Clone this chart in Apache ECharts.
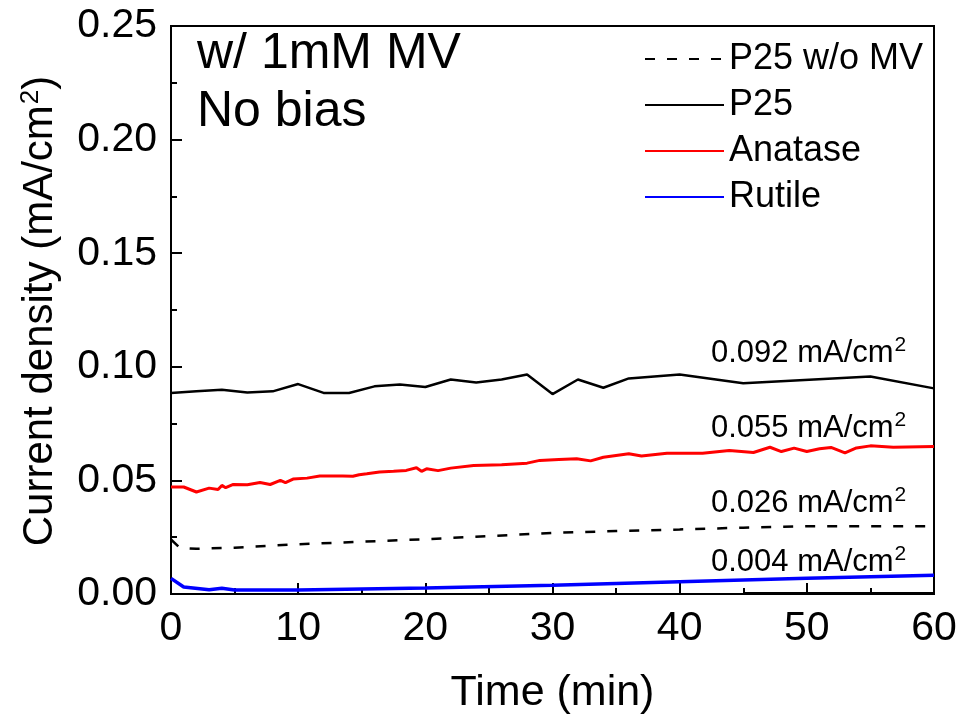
<!DOCTYPE html>
<html>
<head>
<meta charset="utf-8">
<script src="https://cdn.jsdelivr.net/npm/echarts@6/dist/echarts.min.js"></script>
<style>
  html, body { margin: 0; padding: 0; background: #fff; }
  #chart { width: 960px; height: 717px; }
</style>
</head>
<body>
<div id="chart"></div>
<script>
// values
const xTicks = [0, 10, 20, 30, 40, 50, 60];
const yTicks = [0.0, 0.05, 0.1, 0.15, 0.2, 0.25];

const noMvTime = [0, 0.7, 2, 5, 10, 15, 20, 25, 30, 35, 40, 45, 50, 55, 60];
const noMvVals = [0.024, 0.0203, 0.0199, 0.0204, 0.0219, 0.023, 0.0241, 0.0255, 0.0269, 0.0277, 0.0284, 0.0292, 0.0298, 0.0298, 0.0298];

const p25Time = [0, 2, 4, 6, 8, 10, 12, 14, 16, 18, 20, 22, 24, 26, 28, 30, 32, 34, 36, 40, 45, 55, 60];
const p25Vals = [0.0885, 0.0892, 0.0899, 0.0887, 0.0892, 0.0924, 0.0885, 0.0885, 0.0914, 0.0922, 0.0911, 0.0944,
  0.0931, 0.0944, 0.0966, 0.088, 0.0944, 0.0908, 0.0949, 0.0966, 0.0928, 0.0957, 0.0905];

const anataseTime = [0, 1, 2, 3, 3.7, 4, 4.3, 4.9, 6, 7, 7.8, 8.6, 9, 9.6, 10.7, 11.7, 13.5, 14.3, 14.8, 15.4, 16.4,
  17.5, 18.5, 19.3, 19.7, 20.1, 21, 22, 23.8, 26, 28, 29, 30.5, 31.9, 33, 34, 36, 37, 39, 41.8, 43.9, 45.8, 47.1,
  48, 49, 50, 51, 51.9, 53, 53.9, 55, 56.8, 60];
const anataseVals = [0.0471, 0.0471, 0.0449, 0.0466, 0.046, 0.0478, 0.0468, 0.0482, 0.0481, 0.0491, 0.0482, 0.05,
  0.049, 0.0506, 0.051, 0.0519, 0.0519, 0.0518, 0.0525, 0.0529, 0.0537, 0.054, 0.0544, 0.0556, 0.054, 0.0551, 0.0543,
  0.0554, 0.0566, 0.0569, 0.0576, 0.0588, 0.0592, 0.0595, 0.0586, 0.0602, 0.0617, 0.0607, 0.062, 0.062, 0.0632,
  0.0623, 0.0646, 0.0627, 0.0642, 0.0627, 0.0639, 0.0645, 0.0621, 0.0643, 0.0652, 0.0646, 0.0649];

const rutileTime = [0, 1, 3, 4, 5, 10, 20, 30, 40, 50, 60];
const rutileVals = [0.0069, 0.0031, 0.0019, 0.0025, 0.0018, 0.0018, 0.0026, 0.0039, 0.0054, 0.0069, 0.0083];

// short trace hugging the x axis at the end of the run
const baseTime = [45, 60];
const baseVals = [0.0004, 0.0004];

const annotations = ["0.092", "0.055", "0.026", "0.004"];

const FONT = "'Liberation Sans', Arial, sans-serif";

function pairs(xs, ys) {
  return xs.map((x, i) => [x, ys[i]]);
}

const chart = echarts.init(document.getElementById("chart"));

const supRich = {
  a: { fontFamily: FONT, fontSize: 31, color: "#000" },
  s: { fontFamily: FONT, fontSize: 21, color: "#000", verticalAlign: "top", padding: [0, 0, 16, 1] }
};

const annoTops = [335, 410, 485, 544];

const option = {
  animation: false,
  backgroundColor: "#fff",
  grid: {
    left: 171, right: 26, top: 26, bottom: 123,
    outerBoundsMode: "none",
    containLabel: false,
    show: true, borderColor: "#000", borderWidth: 2, backgroundColor: "transparent"
  },
  legend: {
    orient: "vertical",
    left: 639,
    top: 36,
    itemWidth: 79,
    itemHeight: 14,
    itemGap: 10,
    itemStyle: { opacity: 0 },
    textStyle: { fontFamily: FONT, fontSize: 36, lineHeight: 35, color: "#000", padding: [0, 0, 0, 0] },
    data: ["P25 w/o MV", "P25", "Anatase", "Rutile"]
  },
  xAxis: {
    type: "value",
    min: 0, max: 60, interval: 10,
    name: "Time (min)",
    nameLocation: "middle",
    nameGap: 78,
    nameTextStyle: { fontFamily: FONT, fontSize: 43, color: "#000" },
    axisLine: { lineStyle: { color: "#000", width: 2 } },
    axisTick: { inside: true, length: 11, lineStyle: { color: "#000", width: 2 } },
    minorTick: { show: true, splitNumber: 2, length: 6, lineStyle: { color: "#000", width: 2 } },
    axisLabel: { fontFamily: FONT, fontSize: 41, color: "#000", margin: 14,
      formatter: v => xTicks.includes(v) ? String(v) : "" },
    splitLine: { show: false }
  },
  yAxis: {
    type: "value",
    min: 0, max: 0.25, interval: 0.05,
    axisLine: { lineStyle: { color: "#000", width: 2 } },
    axisTick: { inside: true, length: 11, lineStyle: { color: "#000", width: 2 } },
    minorTick: { show: true, splitNumber: 2, length: 6, lineStyle: { color: "#000", width: 2 } },
    axisLabel: { fontFamily: FONT, fontSize: 41, color: "#000", margin: 14,
      formatter: v => {
        const t = yTicks.find(y => Math.abs(y - v) < 1e-9);
        return t === undefined ? "" : t.toFixed(2);
      } },
    splitLine: { show: false }
  },
  graphic: [
    {
      type: "text", x: 40, y: 311, rotation: Math.PI / 2,
      style: {
        text: "{a|Current density (mA/cm}{s|2}{a|)}",
        align: "center", verticalAlign: "middle",
        rich: {
          a: { fontFamily: FONT, fontSize: 42, color: "#000" },
          s: { fontFamily: FONT, fontSize: 26, color: "#000", verticalAlign: "top", padding: [0, 0, 18, 1] }
        }
      }
    },
    {
      type: "text", left: 197, top: 29,
      style: { text: "w/ 1mM MV", fontFamily: FONT, fontSize: 50, fill: "#000" }
    },
    {
      type: "text", left: 197, top: 87,
      style: { text: "No bias", fontFamily: FONT, fontSize: 50, fill: "#000" }
    }
  ].concat(annotations.map((a, i) => ({
    type: "text", left: 711, top: annoTops[i],
    style: { text: "{a|" + a + " mA/cm}{s|2}", rich: supRich }
  }))),
  series: [
    {
      name: "P25 w/o MV", type: "line", showSymbol: false, symbol: "none",
      data: pairs(noMvTime, noMvVals),
      itemStyle: { color: "#000" },
      lineStyle: { color: "#000", width: 2.5, type: [10, 12] }
    },
    {
      name: "P25", type: "line", showSymbol: false, symbol: "none",
      data: pairs(p25Time, p25Vals),
      itemStyle: { color: "#000" },
      lineStyle: { color: "#000", width: 2.5 }
    },
    {
      name: "Anatase", type: "line", showSymbol: false, symbol: "none",
      data: pairs(anataseTime, anataseVals),
      itemStyle: { color: "#ff0000" },
      lineStyle: { color: "#ff0000", width: 3 }
    },
    {
      name: "Rutile", type: "line", showSymbol: false, symbol: "none",
      data: pairs(rutileTime, rutileVals),
      itemStyle: { color: "#0000ff" },
      lineStyle: { color: "#0000ff", width: 3.5 }
    },
    {
      name: "base", type: "line", showSymbol: false, symbol: "none",
      data: pairs(baseTime, baseVals),
      itemStyle: { color: "#000" },
      lineStyle: { color: "#000", width: 2 }
    }
  ]
};

chart.setOption(option);
</script>
</body>
</html>
